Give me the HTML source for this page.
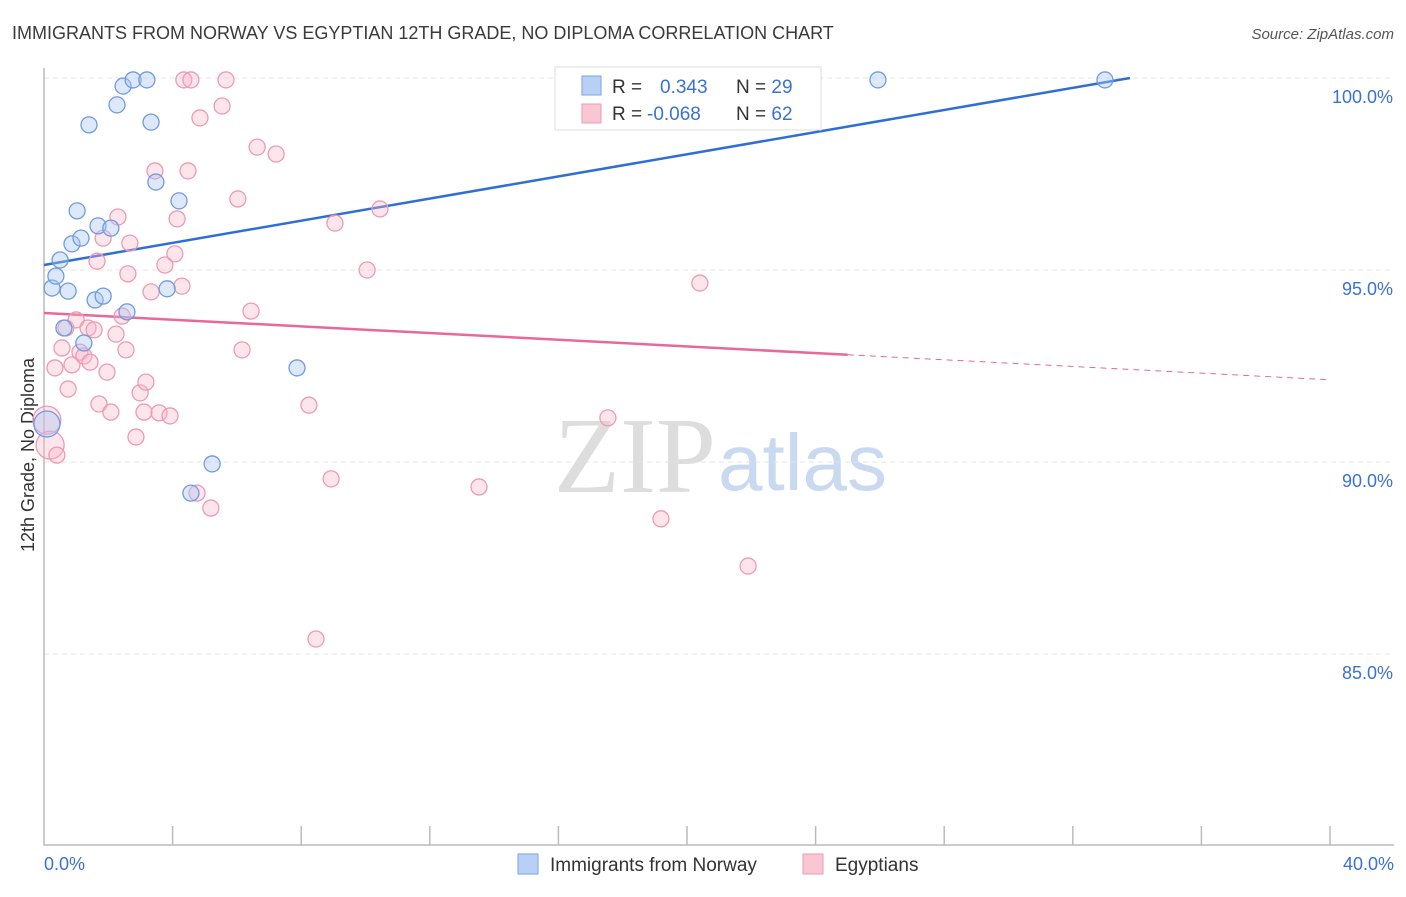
<!DOCTYPE html>
<html><head><meta charset="utf-8"><style>
body{margin:0;background:#fff;font-family:"Liberation Sans",sans-serif;}
#c{position:relative;width:1406px;height:892px;}
</style></head><body>
<div id="c">
<svg id="s" width="1406" height="892" xmlns="http://www.w3.org/2000/svg">
<text x="12" y="39" font-size="18" fill="#3a3a3a">IMMIGRANTS FROM NORWAY VS EGYPTIAN 12TH GRADE, NO DIPLOMA CORRELATION CHART</text>
<text x="1394" y="39" font-size="15" fill="#555" font-style="italic" text-anchor="end">Source: ZipAtlas.com</text>
<text transform="translate(34,455) rotate(-90)" font-size="18" fill="#333" text-anchor="middle">12th Grade, No Diploma</text>
<text x="716" y="492" font-size="108" fill="#ddd" text-anchor="end" font-family="Liberation Serif,serif">ZIP</text>
<text x="718" y="490" font-size="80" fill="#c9d9f0">atlas</text>
<g id="grid"></g><g id="axes"></g><g id="lines"></g><g id="pts"></g>
<g>
<rect x="555" y="67" width="266" height="63" fill="#fff" stroke="#ddd"/>
<rect x="582" y="76" width="19" height="19" fill="#b8d0f5" stroke="#7aa3e0"/>
<rect x="582" y="104" width="19" height="19" fill="#f9c6d4" stroke="#ee9ab2"/>
<text x="612" y="93" font-size="19" fill="#333">R = <tspan fill="#3a72d0" x="660">0.343</tspan><tspan fill="#333" x="736">N = </tspan><tspan fill="#3a72d0">29</tspan></text>
<text x="612" y="120" font-size="19" fill="#333">R = <tspan fill="#3a72d0" x="647">-0.068</tspan><tspan fill="#333" x="736">N = </tspan><tspan fill="#3a72d0">62</tspan></text>
</g>
<g>
<rect x="518" y="854" width="20" height="20" fill="#b8d0f5" stroke="#7aa3e0"/>
<text x="550" y="871" font-size="19" fill="#333">Immigrants from Norway</text>
<rect x="803" y="854" width="20" height="20" fill="#f9c6d4" stroke="#ee9ab2"/>
<text x="835" y="871" font-size="19" fill="#333">Egyptians</text>
</g>
</svg>
</div>
<script>
const blueX=[0.25,0.37,0.50,0.75,0.87,1.03,1.15,1.40,1.59,1.68,1.84,2.08,2.27,2.46,2.58,2.77,3.20,3.33,3.48,3.83,4.20,5.23,4.57,7.87,25.94,33.0,0.62,1.24,0.09];
const blueY=[94.53,94.84,95.26,94.45,95.68,96.54,95.83,98.78,94.22,96.15,94.32,96.09,99.30,99.79,93.91,99.95,99.95,98.85,97.29,94.51,96.80,89.95,89.19,92.45,99.95,99.95,93.49,93.10,90.99];
const pinkX=[0.09,0.19,0.40,0.34,0.56,0.75,0.68,0.87,1.00,1.12,1.24,1.37,1.43,1.56,1.65,1.71,1.84,1.96,2.08,2.24,2.30,2.43,2.55,2.61,2.67,2.86,2.99,3.17,3.11,3.33,3.45,3.58,3.76,3.92,4.07,4.14,4.29,4.35,4.48,4.57,4.76,4.85,5.19,5.54,5.66,6.03,6.16,6.44,6.63,7.22,8.24,8.46,8.93,9.05,10.05,10.45,13.53,17.54,18.26,19.19,20.40,21.90];
const pinkY=[91.09,90.44,90.18,92.45,92.97,91.90,93.49,92.53,93.70,92.86,92.76,93.49,92.60,93.44,95.23,91.51,95.83,92.34,91.30,93.33,96.38,93.80,92.92,94.90,95.70,90.65,91.80,92.08,91.30,94.43,97.58,91.28,95.13,91.20,95.42,96.33,94.58,99.95,97.58,99.95,89.19,98.96,88.80,99.27,99.95,96.85,92.92,93.93,98.20,98.02,91.48,85.39,89.56,96.22,95.0,96.59,89.35,91.15,99.95,88.52,94.66,87.29];
const yTicks=[100,95,90,85];
const yTickLabels=["100.0%","95.0%","90.0%","85.0%"];
const xTickLabels=["0.0%","40.0%"];
const blueLine=[95.13,0.1442,33.78];
const pinkLine=[93.88,-0.0435,25];
const NS="http://www.w3.org/2000/svg";
const X=v=>44+v*32.15, Y=v=>78+(100-v)*38.4;
function mk(t,a,p){const e=document.createElementNS(NS,t);for(const k in a)e.setAttribute(k,a[k]);document.getElementById(p).appendChild(e);return e;}
yTicks.forEach((t,i)=>{
 const l=mk('line',{x1:44,x2:1394,y1:Y(t),y2:Y(t),stroke:'#e4e4e4','stroke-dasharray':'5,4'},'grid');
 
 
 const tx=mk('text',{x:1393,y:Y(t)+25,'font-size':18,fill:'#3a72d0','text-anchor':'end'},'grid');
 tx.textContent=yTickLabels[i];
 
 
});
const ax=mk('path',{d:'M44 68V845H1394',fill:'none',stroke:'#bbb','stroke-width':1.5},'axes');


for(let i=1;i<=10;i++){const t=mk('line',{x1:X(i*4),x2:X(i*4),y1:826,y2:845,stroke:'#bbb','stroke-width':1.5},'axes');
 
 }
[[0,'start',44],[40,'end',1394]].forEach((d,i)=>{const t=mk('text',{x:d[2],y:870,'font-size':18,fill:'#3a72d0','text-anchor':d[1]},'axes');t.textContent=xTickLabels[i];
 
 });
const bl=mk('line',{x1:X(0),y1:Y(blueLine[0]),x2:X(blueLine[2]),y2:Y(blueLine[0]+blueLine[1]*blueLine[2]),stroke:'#2e6fd6','stroke-width':2.5},'lines');


const pl=mk('line',{x1:X(0),y1:Y(pinkLine[0]),x2:X(pinkLine[2]),y2:Y(pinkLine[0]+pinkLine[1]*pinkLine[2]),stroke:'#e8689a','stroke-width':2.5},'lines');


const pd=mk('line',{x1:X(pinkLine[2]),y1:Y(pinkLine[0]+pinkLine[1]*pinkLine[2]),x2:X(40),y2:Y(pinkLine[0]+pinkLine[1]*40),stroke:'#e8689a','stroke-width':1,'stroke-dasharray':'6,5'},'lines');


pinkX.forEach((x,i)=>{const c=mk('circle',{cx:X(x),cy:Y(pinkY[i]),r:i<2?14:8,fill:'rgba(248,180,200,0.35)',stroke:'#ee9ab2','stroke-width':1.3},'pts');
 
 });
blueX.forEach((x,i)=>{const c=mk('circle',{cx:X(x),cy:Y(blueY[i]),r:i==28?13:8,fill:'rgba(170,200,245,0.4)',stroke:'#6f9be0','stroke-width':1.3},'pts');
 
 });
</script>
</body></html>
